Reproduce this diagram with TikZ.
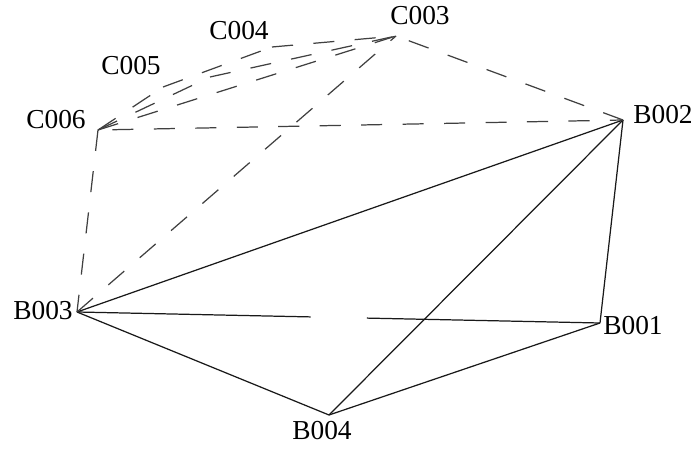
\documentclass[tikz,border=0pt]{standalone}
\usepackage{fontspec}
\setmainfont{Liberation Serif}
\begin{document}
\begin{tikzpicture}
[x=0.02cm,y=-0.02cm,
  labeldecorate/.style={inner sep=0pt,font=\fontsize{15.6}{18}\selectfont},%
  linedecorate/.style={-,draw=black!90,line width=0.7pt},%
  dashdecorate/.style={-,draw=black!75,line width=0.7pt,dash pattern=on 12pt off 11.6pt},%
  gapdecorate/.style={linedecorate,dash pattern=on 133pt off 32pt on 200pt off 10pt}]
\useasboundingbox (0,0) rectangle (700,449);
%% vertices
\foreach \nodename/\x/\y in {C003/396/36, C004/272/47, C005/163/87, C006/98/130,
  Cmid/210/77, B001/600/323, B002/623/120, B003/77/312, B004/329/415} {
  \coordinate (\nodename) at (\x,\y);
}
%% labels
\foreach \nodename/\x/\y/\nodetext in {lC003/420/16/C003, lC004/239/31/C004,
  lC005/131/66/C005, lC006/56/120/C006, lB001/633/326/B001, lB002/663/115/B002,
  lB003/43/311/B003, lB004/322/431/B004} {
  \node (\nodename) at (\x,\y) [labeldecorate] {\nodetext};
}
%% solid lines
\path
\foreach \startnode/\endnode in {B003/B002, B003/B004, B004/B001, B004/B002, B001/B002} {
  (\startnode) edge[linedecorate] (\endnode)
};
\path (B003) edge[gapdecorate] (B001);
%% dashed lines
\path
\foreach \startnode/\endnode in {C006/C005, C005/C004, C004/C003, C006/Cmid, Cmid/C003,
  C006/C003, C006/B003, B003/C003, B002/C003} {
  (\startnode) edge[dashdecorate] (\endnode)
};
\path (C006) edge[dashdecorate,dash phase=15.4pt] (B002);
\end{tikzpicture}
\end{document}
